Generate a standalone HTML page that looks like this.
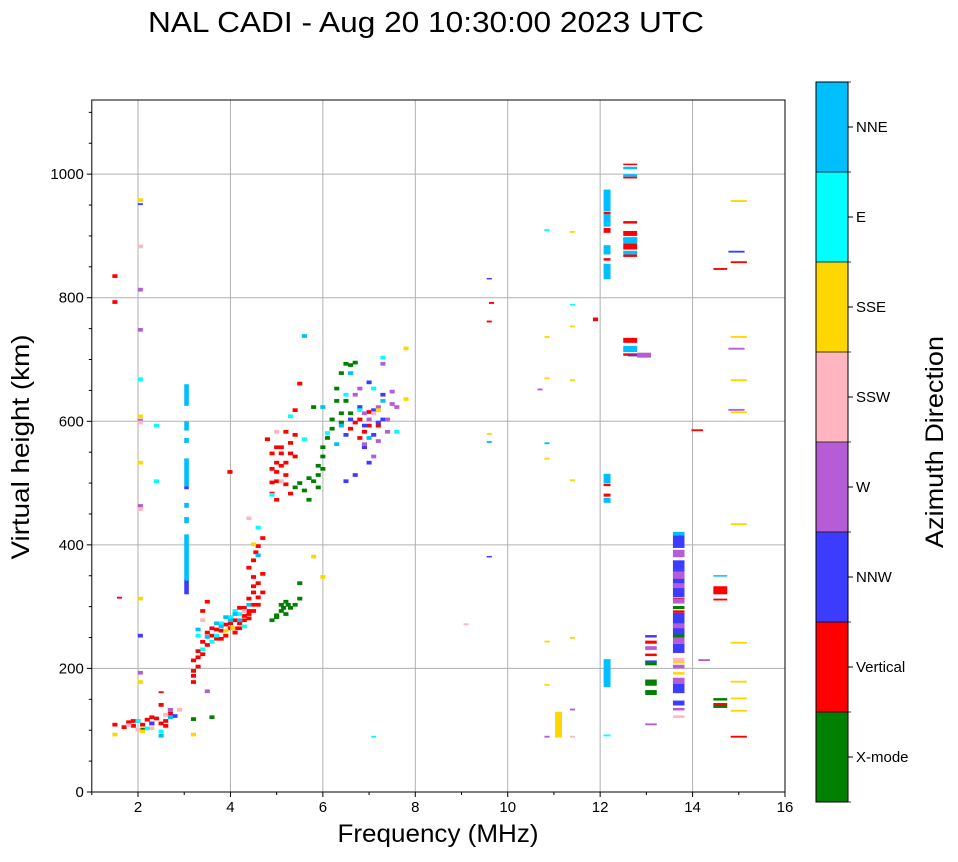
<!DOCTYPE html>
<html><head><meta charset="utf-8"><style>
body{margin:0;background:#fff;font-family:"Liberation Sans",sans-serif;}
svg text{font-family:"Liberation Sans",sans-serif;fill:#000;}
</style></head><body>
<svg id="chart" width="958" height="857" viewBox="0 0 958 857" xmlns="http://www.w3.org/2000/svg">
<text x="426" y="32" font-size="29" text-anchor="middle" textLength="556" lengthAdjust="spacingAndGlyphs">NAL CADI - Aug 20 10:30:00 2023 UTC</text>
<g id="grid"></g><g id="marks"></g><g id="axes"></g><g id="cbar"></g>
</svg>
<script>
// each entry: [frequency MHz (centre), virtual height km (bottom), height span km, bin width MHz]
const categories = ["X-mode","Vertical","NNW","W","SSW","SSE","E","NNE"];
const catColors = ["#008000","#ff0000","#3c3cff","#b65cd6","#ffb6c1","#ffd700","#00ffff","#00bfff"];
const xTicks = [2,4,6,8,10,12,14,16];
const yTicks = [0,200,400,600,800,1000];

const xmode = [[2.1,98],[3.2,115],[3.6,118],[4.9,275],[5.0,280],[5.1,290],[5.1,300],[5.2,285],[5.3,295],[5.2,305],[5.4,300],[5.5,335],[5.5,310],[5.0,283],[5.15,295],[5.25,300],
[5.4,490],[5.6,485],[5.7,470],[5.7,505],[5.8,500],[5.9,510],[5.9,525],[6.0,540],[6.0,555],[6.1,570],[5.9,490],[6.2,600],[6.3,630],[6.4,675],[6.5,690],[6.6,688],[6.7,692],[6.3,650],[6.4,610],[5.8,620],[6.5,630],[6.6,610],[6.2,585],[6.0,520],[5.5,497],[6.4,595],
[12.65,892,5,0.3],[13.1,205,6,0.25],[13.1,172,10,0.25],[13.1,157,8,0.25],[13.7,250,6,0.25],[13.7,296,5,0.25],[14.6,148,4,0.3],[14.6,136,5,0.3]];
const vertical = [[1.5,832],[1.5,790],[1.6,313,3],[1.5,106],[1.7,102],[1.8,110],[1.9,104],[2.0,112],[2.1,106],[2.2,114],[2.3,108],[2.4,116],[2.6,112],[2.7,124],[2.5,160,3],[2.5,138],[1.9,112],[2.3,118],[2.5,108],[2.6,104],
[3.2,175],[3.2,185],[3.2,193],[3.2,210],[3.3,225],[3.3,200],[3.4,220],[3.4,240],[3.5,235],[3.6,250],[3.6,262],[3.7,245],[3.8,258],[3.9,250],[3.9,268],[4.0,262],[4.1,275],[4.1,262],[4.2,270],[4.3,282],[4.2,295],[4.4,290],[4.4,278],[4.5,300],[4.4,310],[4.5,320],[4.6,312],[4.5,345],[4.6,335],[4.5,372],[4.7,408],[4.7,350],[3.4,290],[3.5,305],[3.99,515],
[3.3,215],[3.5,255],[3.7,260],[3.8,245],[4.0,270],[4.1,255],[4.2,262],[4.3,275],[4.4,285],[4.3,295],[4.5,290],[4.6,300],[4.5,330],[4.4,360],[4.6,395],[4.55,385],[4.7,320],
[4.8,568],[4.9,520],[5.0,500],[5.0,530],[5.1,545],[5.2,510],[5.1,555],[5.3,562],[5.2,580],[4.9,498],[5.0,470],[5.4,615],[5.5,658],[5.3,480],[4.9,480],[5.2,530],[5.4,540],[5.0,515],[5.1,525],[5.2,495],[5.3,545],[4.9,545],[5.0,555],[5.4,575],
[6.6,585],[6.8,600],[6.9,580],[7.0,612],[6.7,595],[7.2,590],[6.8,570],[7.0,590],
[9.6,760,3],[9.65,790,3],[11.9,762],[12.15,478,5,0.15],[12.15,495,4,0.15],[12.15,860,4,0.15],[12.15,905,8,0.15],[12.15,935,4,0.15],[12.65,920,4,0.3],[12.65,900,8,0.3],[12.65,878,10,0.3],[12.65,866,4,0.3],[12.65,727,8,0.3],[12.65,706,4,0.3],[12.65,993,3,0.3],[12.65,1015,2,0.3],
[13.1,240,5,0.25],[13.1,220,4,0.25],[13.7,310,4,0.25],[13.7,290,4,0.25],[14.1,584,3,0.25],[14.6,845,3,0.3],[15.0,856,3,0.35],[14.6,320,13,0.3],[14.6,310,3,0.3],[14.6,140,4,0.3],[15.0,88,3,0.35]];
const nnw = [[3.05,320,25,0.1],[3.05,490,5,0.1],[2.05,950,3],[2.05,250],[2.3,108],[2.8,120],[6.5,500],[6.7,510],[6.9,555],[7.0,530],[7.1,575],[7.2,595],[6.8,620],[7.3,640],[7.0,660],[6.6,600],[6.9,590],[7.1,615],[7.3,600],[6.5,575],[9.6,830,2],[9.6,380,2],[13.1,250,4,0.25],[13.1,210,3,0.25],[14.95,873,3,0.35],
[13.7,395,25,0.25],[13.7,360,15,0.25],[13.7,315,45,0.25],[13.7,255,35,0.25],[13.7,225,15,0.25],[13.7,160,20,0.25],[13.7,140,8,0.25],[12.75,705,3,0.3]];
const wdir = [[2.05,810],[2.05,745],[2.05,598],[2.05,460],[2.05,190],[2.7,130],[3.5,160],[6.7,640],[6.9,560],[7.0,600],[7.1,540],[7.3,690],[7.5,645],[7.4,600],[7.6,620],[7.2,620],[6.8,650],[7.2,565],[7.4,580],[7.5,625],[6.9,610],[10.7,650,3],[10.85,88,3],[11.4,132,3],[13.1,230,6,0.25],[13.1,108,3,0.25],[13.7,380,12,0.25],[13.7,345,12,0.25],[13.7,330,8,0.25],[13.7,305,8,0.25],[13.7,265,8,0.25],[13.7,240,10,0.25],[13.7,200,6,0.25],[13.7,175,10,0.25],[13.7,132,4,0.25],[12.95,703,8,0.3],[14.25,212,3,0.25],[14.95,716,3,0.35],[14.95,617,3,0.35]];
const ssw = [[2.05,880],[2.05,595],[2.05,455],[1.8,105],[2.0,98],[2.3,100],[2.6,122],[2.9,130],[4.4,440],[5.0,580],[5.1,500],[7.1,610],[9.1,270,3],[11.4,88,3],[13.7,212,5,0.25],[13.7,120,4,0.25],[3.4,275],[4.3,290]];
const sse = [[2.05,955],[2.05,605],[2.05,530],[2.05,310],[2.05,175],[1.5,90],[2.1,95],[3.2,90],[4.05,262],[4.5,398],[5.8,378],[6.0,345],[7.8,715],[7.8,633],[7.2,615],[3.9,258],[9.6,578,3],[10.85,735,3],[10.85,668,3],[10.85,538,3],[10.85,242,3],[10.85,172,3],[11.4,905,3],[11.4,752,3],[11.4,665,3],[11.4,503,3],[11.4,248,3],[11.1,88,42,0.15],[13.7,208,4,0.25],[13.7,190,4,0.25],[15.0,955,3,0.35],[15.0,735,3,0.35],[15.0,665,3,0.35],[15.0,613,3,0.35],[15.0,432,3,0.35],[15.0,240,3,0.35],[15.0,177,3,0.35],[15.0,150,3,0.35],[15.0,130,3,0.35]];
const edir = [[2.05,665],[2.4,590],[2.4,500],[2.0,112],[2.2,100],[2.5,95],[3.3,250],[3.4,228],[3.6,240],[3.8,270],[4.0,280],[4.2,285],[4.3,265],[4.6,425],[4.9,478],[5.3,605],[5.6,568],[6.1,578],[6.5,640],[6.8,615],[7.1,650],[7.3,700],[7.6,580],[3.7,250],[4.1,290],[10.85,908,3],[11.4,788,2],[7.1,88,3],[12.15,90,3,0.15]];
const nne = [[3.05,342,75,0.1],[3.05,435,10,0.1],[3.05,460,8,0.1],[3.05,495,45,0.1],[3.05,565,8,0.1],[3.05,585,15,0.1],[3.05,625,35,0.1],[2.5,88],[2.7,118],[3.3,260],[3.5,248],[3.7,270],[3.9,280],[4.1,285],[4.2,275],[4.4,300],[4.6,380],[4.0,275],[3.8,265],[5.6,735],[6.0,620],[6.3,560],[6.4,590],[6.6,675],[7.0,570],[7.3,630],[9.6,565,3],[10.85,563,3],
[12.15,170,45,0.15],[12.15,500,15,0.15],[12.15,468,8,0.15],[12.15,830,25,0.15],[12.15,870,15,0.15],[12.15,915,20,0.15],[12.15,940,35,0.15],[12.65,888,10,0.3],[12.65,870,6,0.3],[12.65,712,10,0.3],[12.65,996,4,0.3],[12.65,1008,4,0.3],[13.7,415,6,0.25],[14.6,350,1,0.3]];

const allSeries = [xmode, vertical, nnw, wdir, ssw, sse, edir, nne];
const x0=91.8, x1=785, y0=792, yTop=100, fMin=1, fMax=16, hMax=1120;
const xs = f => x0 + (f-fMin)*(x1-x0)/(fMax-fMin);
const ys = h => y0 - h*(y0-yTop)/hMax;
const NS="http://www.w3.org/2000/svg";
function mk(tag, attrs, parent){const e=document.createElementNS(NS,tag);for(const k in attrs)e.setAttribute(k,attrs[k]);parent.appendChild(e);return e;}
const grid=document.getElementById('grid'), marks=document.getElementById('marks'), axes=document.getElementById('axes'), cbar=document.getElementById('cbar');
xTicks.forEach(t=>{if(t<fMax){const l=mk('line',{x1:xs(t),x2:xs(t),y1:yTop,y2:y0,stroke:'#b0b0b0','stroke-width':1},grid);

}});
yTicks.forEach(t=>{if(t>0){const l=mk('line',{x1:x0,x2:x1,y1:ys(t),y2:ys(t),stroke:'#b0b0b0','stroke-width':1},grid);

}});
allSeries.forEach((arr,ci)=>{arr.forEach(d=>{const f=d[0],h=d[1],dh=d.length>2?d[2]:6,w=d.length>3?d[3]:0.11;
const r=mk('rect',{x:xs(f-w/2),y:ys(h+dh),width:xs(f+w/2)-xs(f-w/2),height:Math.max(1.5,ys(h)-ys(h+dh)),fill:catColors[ci]},marks);

});});
const frame=mk('rect',{x:x0,y:yTop,width:x1-x0,height:y0-yTop,fill:'none',stroke:'#000','stroke-width':1},axes);


xTicks.forEach(t=>{mk('line',{x1:xs(t),x2:xs(t),y1:y0,y2:y0+5,stroke:'#000'},axes);
const tx=mk('text',{x:xs(t),y:y0+20,'font-size':15,'text-anchor':'middle'},axes);tx.textContent=t;

});
for(let f=1;f<16;f+=1){if(f%2)mk('line',{x1:xs(f),x2:xs(f),y1:y0,y2:y0+3,stroke:'#000'},axes);}
yTicks.forEach(t=>{mk('line',{x1:x0-5,x2:x0,y1:ys(t),y2:ys(t),stroke:'#000'},axes);
const tx=mk('text',{x:x0-8,y:ys(t)+5,'font-size':15,'text-anchor':'end'},axes);tx.textContent=t;

});
for(let h=50;h<hMax;h+=50){if(h%200)mk('line',{x1:x0-3,x2:x0,y1:ys(h),y2:ys(h),stroke:'#000'},axes);}
const xt=mk('text',{x:438,y:842,'font-size':25,'text-anchor':'middle',textLength:201,lengthAdjust:'spacingAndGlyphs'},axes);xt.textContent='Frequency (MHz)';


const yt=mk('text',{x:0,y:0,'font-size':25,'text-anchor':'middle',textLength:225,lengthAdjust:'spacingAndGlyphs',transform:'translate(29,447) rotate(-90)'},axes);yt.textContent='Virtual height (km)';


const cbTop=82, cbBot=802, cbX=816, cbW=32, seg=(cbBot-cbTop)/categories.length;
categories.forEach((c,i)=>{const yy=cbBot-(i+1)*seg;
const r=mk('rect',{x:cbX,y:yy,width:cbW,height:seg+0.5,fill:catColors[i]},cbar);


mk('line',{x1:cbX+cbW,x2:cbX+cbW+5,y1:yy+seg/2,y2:yy+seg/2,stroke:'#000'},cbar);
const t=mk('text',{x:cbX+cbW+8,y:yy+seg/2+5,'font-size':15},cbar);t.textContent=c;

});
for(let i=0;i<=categories.length;i++){mk('line',{x1:cbX,x2:cbX+cbW+3,y1:cbTop+i*seg,y2:cbTop+i*seg,stroke:'#000','stroke-width':0.8},cbar);}
const cf=mk('rect',{x:cbX,y:cbTop,width:cbW,height:cbBot-cbTop,fill:'none',stroke:'#000'},cbar);


const ct=mk('text',{x:0,y:0,'font-size':25,'text-anchor':'middle',textLength:212,lengthAdjust:'spacingAndGlyphs',transform:'translate(943,442) rotate(-90)'},cbar);ct.textContent='Azimuth Direction';


</script>
</body></html>
